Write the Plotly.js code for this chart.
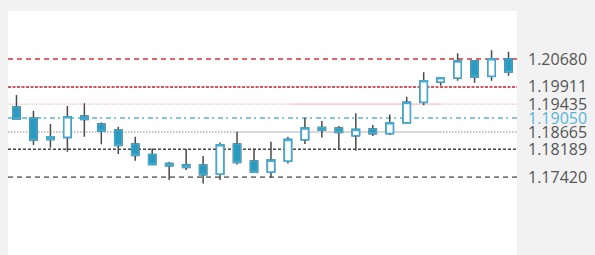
<!DOCTYPE html>
<html>
<head>
<meta charset="utf-8">
<script src="https://cdn.plot.ly/plotly-3.0.1.min.js"></script>
<style>html,body{margin:0;padding:0;background:#f2f2f2;}#chart{width:595px;height:255px;}</style>
</head>
<body>
<div id="chart"></div>
<script>
// Candle data (index order)
const bars   = [0,1,2,3,4,5,6,7,8,9,10,11,12,13,14,15,16,17,18,19,20,21,22,23,24,25,26,27,28,29];
const opens  = [1.19354,1.19042,1.18462,1.18517,1.19105,1.18884,1.18719,1.18332,1.18047,1.17799,1.17760,1.17752,1.17503,1.18332,1.17862,1.17558,1.17862,1.18451,1.18793,1.18774,1.18561,1.18746,1.18622,1.18920,1.19484,1.20045,1.20155,1.20633,1.20202,1.20688];
const highs  = [1.19686,1.19252,1.18884,1.19382,1.19456,1.18926,1.18810,1.18534,1.18213,1.17835,1.18194,1.18000,1.18379,1.18672,1.18213,1.18395,1.18534,1.19058,1.18967,1.18829,1.19180,1.18857,1.19147,1.19639,1.20313,1.20165,1.20838,1.20652,1.20920,1.20882];
const lows   = [1.19009,1.18304,1.18230,1.18119,1.18534,1.18324,1.18056,1.17871,1.17760,1.17338,1.17614,1.17246,1.17338,1.17771,1.17550,1.17412,1.17799,1.18332,1.18517,1.18194,1.18147,1.18553,1.18581,1.18912,1.19401,1.19942,1.20081,1.20025,1.20081,1.20219];
const closes = [1.19023,1.18442,1.18534,1.19086,1.19014,1.18691,1.18296,1.18020,1.17766,1.17733,1.17688,1.17484,1.18313,1.17826,1.17558,1.17890,1.18462,1.18774,1.18719,1.18655,1.18738,1.18617,1.18920,1.19484,1.20081,1.20163,1.20625,1.20183,1.20688,1.20321];

// Horizontal levels and their labels
const levels      = [1.20680, 1.19911, 1.19435, 1.19050, 1.18665, 1.18189, 1.17420];
const levelLabels = ["1.20680","1.19911","1.19435","1.19050","1.18665","1.18189","1.17420"];
const levelColors = ["#d8323a","#c8202a","#f2a5a5","#5ab4d8","#c4c4c4","#444444","#7a7a7a"];
const levelDashes = ["5px,4px","3px,1.5px","1px,1px","5px,3px,2px,4px","1.5px,1.5px","3px,2px","5px,4px"];
const levelWidths = [1.5,1.5,1,1.5,2,1.5,1.8];
const labelColors = ["#555555","#555555","#555555","#5ab4d8","#555555","#555555","#555555"];

const teal = "#2b9abf";
const outline = "#45aad0";
const wick = "#4a4a4a";

const bodyHigh = opens.map((o,i)=>Math.max(o,closes[i]));
const bodyLow  = opens.map((o,i)=>Math.min(o,closes[i]));

const wicks = {
  type:'candlestick', x:bars, open:opens, high:highs, low:lows, close:closes,
  increasing:{line:{color:wick,width:1.5},fillcolor:'white'},
  decreasing:{line:{color:wick,width:1.5},fillcolor:teal},
  whiskerwidth:0, hoverinfo:'skip', showlegend:false
};
const bodies = {
  type:'candlestick', x:bars, open:opens, high:bodyHigh, low:bodyLow, close:closes,
  increasing:{line:{color:outline,width:1.6},fillcolor:'white'},
  decreasing:{line:{color:outline,width:1.2},fillcolor:teal},
  whiskerwidth:0, showlegend:false
};

const shapes = levels.map((v,i)=>({
  type:'line', xref:'paper', x0:0, x1:1, yref:'y', y0:v, y1:v, layer:'below',
  line:{color:levelColors[i], width:levelWidths[i], dash:levelDashes[i]}
}));
// solid segments overlaying parts of two levels
shapes.push({type:'line', xref:'x', x0:12.9, x1:25, yref:'y', y0:levels[4], y1:levels[4], layer:'below', line:{color:'#d8d8d8', width:2}});
shapes.push({type:'line', xref:'x', x0:16.3, x1:25, yref:'y', y0:levels[2], y1:levels[2], layer:'below', line:{color:'#f6c4c4', width:1}});

const layout = {
  width:595, height:255,
  margin:{l:8, r:78, t:11, b:0, pad:0},
  paper_bgcolor:'#f2f2f2', plot_bgcolor:'#ffffff',
  showlegend:false,
  boxgap:0.39, boxgroupgap:0.3, boxmode:'overlay',
  xaxis:{range:[-0.5,29.5], visible:false, showgrid:false, zeroline:false, rangeslider:{visible:false}, fixedrange:true},
  yaxis:{
    range:[1.15270,1.22006], side:'right', showgrid:false, zeroline:false, showline:false,
    tickvals:levels,
    ticktext:levelLabels.map((t,i)=>'<span style="color:'+labelColors[i]+'">'+t+'</span>'),
    ticks:'', ticklabelstandoff:10,
    tickfont:{family:'"Open Sans", Lato, sans-serif', size:16, color:'#555555'},
    fixedrange:true
  },
  shapes:shapes
};

Plotly.newPlot('chart',[wicks,bodies],layout,{displayModeBar:false,staticPlot:true});
</script>
</body>
</html>
